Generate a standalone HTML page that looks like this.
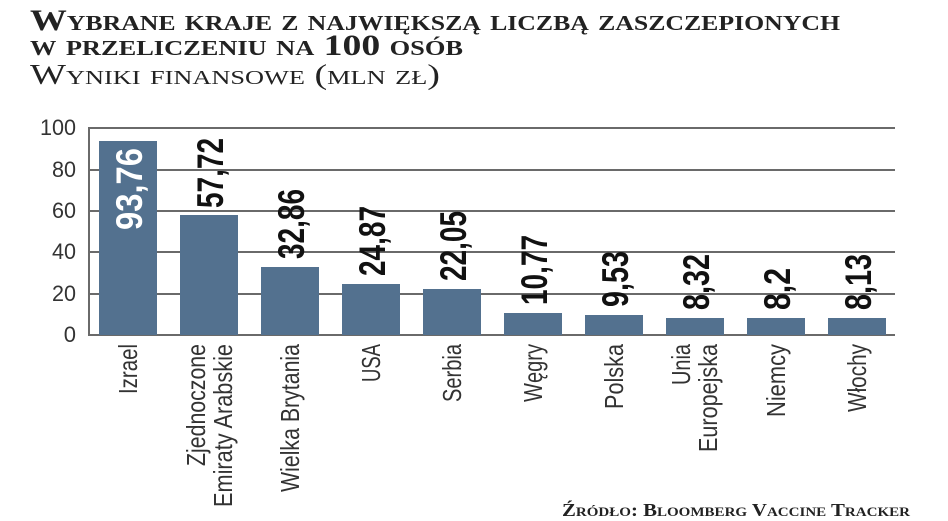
<!DOCTYPE html>
<html><head><meta charset="utf-8"><style>
html,body{margin:0;padding:0;background:#fff;width:948px;height:521px;overflow:hidden}
svg{display:block}
.t{font-family:"Liberation Serif",serif;font-weight:bold;font-variant:small-caps;fill:#222}
.c{font-family:"Liberation Sans Narrow","Liberation Sans",sans-serif;fill:#333}
.n{font-family:"Liberation Sans Narrow","Liberation Sans",sans-serif;font-weight:bold;fill:#111}
</style></head><body>
<svg width="948" height="521" xmlns="http://www.w3.org/2000/svg">
<text class="t" x="30" y="30" font-size="30" textLength="810" lengthAdjust="spacingAndGlyphs">Wybrane kraje z największą liczbą zaszczepionych</text>
<text class="t" x="30" y="55" font-size="30" textLength="433" lengthAdjust="spacingAndGlyphs">w przeliczeniu na 100 osób</text>
<text class="t" x="30" y="84" font-size="29" style="font-weight:normal" textLength="410" lengthAdjust="spacingAndGlyphs">Wyniki finansowe (mln zł)</text>
<g stroke="#6a6a6a" stroke-width="2">
<line x1="88" y1="128" x2="895" y2="128"/>
<line x1="88" y1="170" x2="895" y2="170"/>
<line x1="88" y1="211" x2="895" y2="211"/>
<line x1="88" y1="252" x2="895" y2="252"/>
<line x1="88" y1="294" x2="895" y2="294"/>
<line x1="88" y1="335" x2="895" y2="335"/>
<line x1="89" y1="128" x2="89" y2="335"/>
</g>
<g class="c" font-size="22" text-anchor="end">
<text x="76" y="135" textLength="36" lengthAdjust="spacingAndGlyphs">100</text><text x="76" y="177" textLength="24" lengthAdjust="spacingAndGlyphs">80</text><text x="76" y="218" textLength="24" lengthAdjust="spacingAndGlyphs">60</text>
<text x="76" y="259" textLength="24" lengthAdjust="spacingAndGlyphs">40</text><text x="76" y="301" textLength="24" lengthAdjust="spacingAndGlyphs">20</text><text x="76" y="342">0</text>
</g>
<g fill="#53718f">
<rect x="99" y="141" width="58" height="194"/>
<rect x="180" y="215" width="58" height="120"/>
<rect x="261" y="267" width="58" height="68"/>
<rect x="342" y="284" width="58" height="51"/>
<rect x="423" y="289" width="58" height="46"/>
<rect x="504" y="313" width="58" height="22"/>
<rect x="585" y="315" width="58" height="20"/>
<rect x="666" y="318" width="58" height="17"/>
<rect x="747" y="318" width="58" height="17"/>
<rect x="828" y="318" width="58" height="17"/>
</g>
<g class="n" font-size="37">
<text transform="translate(142,230) rotate(-90)" style="fill:#fff" textLength="82" lengthAdjust="spacingAndGlyphs">93,76</text>
<text transform="translate(223,208) rotate(-90)" textLength="70" lengthAdjust="spacingAndGlyphs">57,72</text>
<text transform="translate(304,259) rotate(-90)" textLength="70" lengthAdjust="spacingAndGlyphs">32,86</text>
<text transform="translate(385,276) rotate(-90)" textLength="70" lengthAdjust="spacingAndGlyphs">24,87</text>
<text transform="translate(466,281) rotate(-90)" textLength="70" lengthAdjust="spacingAndGlyphs">22,05</text>
<text transform="translate(547,305) rotate(-90)" textLength="70" lengthAdjust="spacingAndGlyphs">10,77</text>
<text transform="translate(628,307) rotate(-90)" textLength="56" lengthAdjust="spacingAndGlyphs">9,53</text>
<text transform="translate(709,310) rotate(-90)" textLength="56" lengthAdjust="spacingAndGlyphs">8,32</text>
<text transform="translate(790,310) rotate(-90)" textLength="42" lengthAdjust="spacingAndGlyphs">8,2</text>
<text transform="translate(871,310) rotate(-90)" textLength="56" lengthAdjust="spacingAndGlyphs">8,13</text>
</g>
<g class="c" font-size="26" text-anchor="end">
<text transform="translate(137,344) rotate(-90)" textLength="50" lengthAdjust="spacingAndGlyphs">Izrael</text>
<text transform="translate(205,344) rotate(-90)" textLength="122" lengthAdjust="spacingAndGlyphs">Zjednoczone</text>
<text transform="translate(232,344) rotate(-90)" textLength="163" lengthAdjust="spacingAndGlyphs">Emiraty Arabskie</text>
<text transform="translate(299,344) rotate(-90)" textLength="148" lengthAdjust="spacingAndGlyphs">Wielka Brytania</text>
<text transform="translate(380,344) rotate(-90)" textLength="38" lengthAdjust="spacingAndGlyphs">USA</text>
<text transform="translate(461,344) rotate(-90)" textLength="58" lengthAdjust="spacingAndGlyphs">Serbia</text>
<text transform="translate(542,344) rotate(-90)" textLength="58" lengthAdjust="spacingAndGlyphs">Węgry</text>
<text transform="translate(623,344) rotate(-90)" textLength="65" lengthAdjust="spacingAndGlyphs">Polska</text>
<text transform="translate(690,344) rotate(-90)" textLength="41" lengthAdjust="spacingAndGlyphs">Unia</text>
<text transform="translate(717,344) rotate(-90)" textLength="108" lengthAdjust="spacingAndGlyphs">Europejska</text>
<text transform="translate(785,344) rotate(-90)" textLength="73" lengthAdjust="spacingAndGlyphs">Niemcy</text>
<text transform="translate(866,344) rotate(-90)" textLength="68" lengthAdjust="spacingAndGlyphs">Włochy</text>
</g>
<text class="t" x="910" y="516" font-size="18" text-anchor="end" textLength="348" lengthAdjust="spacingAndGlyphs">Źródło: Bloomberg Vaccine Tracker</text>
</svg>
</body></html>
